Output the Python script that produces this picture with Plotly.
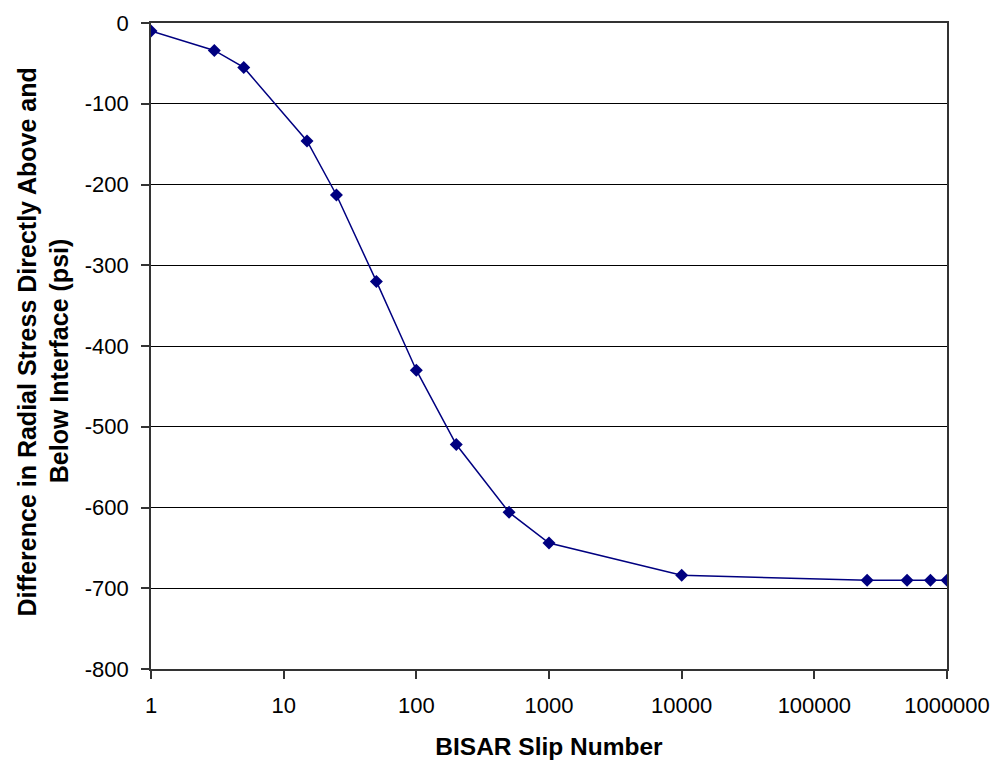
import plotly.graph_objects as go

slip_number = [1, 3, 5, 15, 25, 50, 100, 200, 500, 1000, 10000, 250000, 500000, 750000, 1000000]
stress_diff = [-10, -34, -55, -146, -213, -320, -430, -522, -606, -644, -684, -690, -690, -690, -690]

x_tickvals = [1, 10, 100, 1000, 10000, 100000, 1000000]
x_ticktext = ["1", "10", "100", "1000", "10000", "100000", "1000000"]
y_tickvals = [0, -100, -200, -300, -400, -500, -600, -700, -800]
y_ticktext = ["0", "-100", "-200", "-300", "-400", "-500", "-600", "-700", "-800"]
y_title_lines = ["Difference in Radial Stress Directly Above and", "Below Interface (psi)"]

font_family = "Liberation Sans, Arial, sans-serif"

fig = go.Figure()
fig.add_trace(go.Scatter(
    x=slip_number, y=stress_diff, mode="lines+markers",
    line=dict(color="#000080", width=1.5),
    marker=dict(symbol="diamond", size=10, color="#000080"),
    showlegend=False,
))

fig.update_layout(
    width=1000, height=760,
    margin=dict(l=151, r=53, t=23, b=91),
    paper_bgcolor="white", plot_bgcolor="white",
    font=dict(family=font_family, size=22, color="black"),
    xaxis=dict(
        type="log", range=[0, 6], automargin=False,
        tickvals=x_tickvals, ticktext=x_ticktext,
        ticks="outside", ticklen=8, tickcolor="#333", tickwidth=1.5,
        showline=True, linecolor="#333", linewidth=1.5, mirror=True,
        showgrid=False, zeroline=False,
        ticklabelstandoff=8,
        title=dict(text="<b>BISAR Slip Number</b>", font=dict(size=24.5), standoff=22),
        tickfont=dict(size=22),
    ),
    yaxis=dict(
        range=[-800, 0], automargin=False,
        tickvals=y_tickvals, ticktext=y_ticktext,
        ticks="outside", ticklen=8, tickcolor="#333", tickwidth=1.5,
        showline=True, linecolor="#333", linewidth=1.5, mirror=True,
        showgrid=True, gridcolor="black", gridwidth=1.2, zeroline=False,
        ticklabelstandoff=8,
        tickfont=dict(size=22),
    ),
)

for txt, xp, yp in zip(y_title_lines, [-0.1558, -0.1156], [0.507, 0.478]):
    fig.add_annotation(
        text=f"<b>{txt}</b>", xref="paper", yref="paper", x=xp, y=yp,
        xanchor="center", yanchor="middle", textangle=-90, showarrow=False,
        font=dict(family=font_family, size=25, color="black"),
    )

fig.write_html("out.html")
